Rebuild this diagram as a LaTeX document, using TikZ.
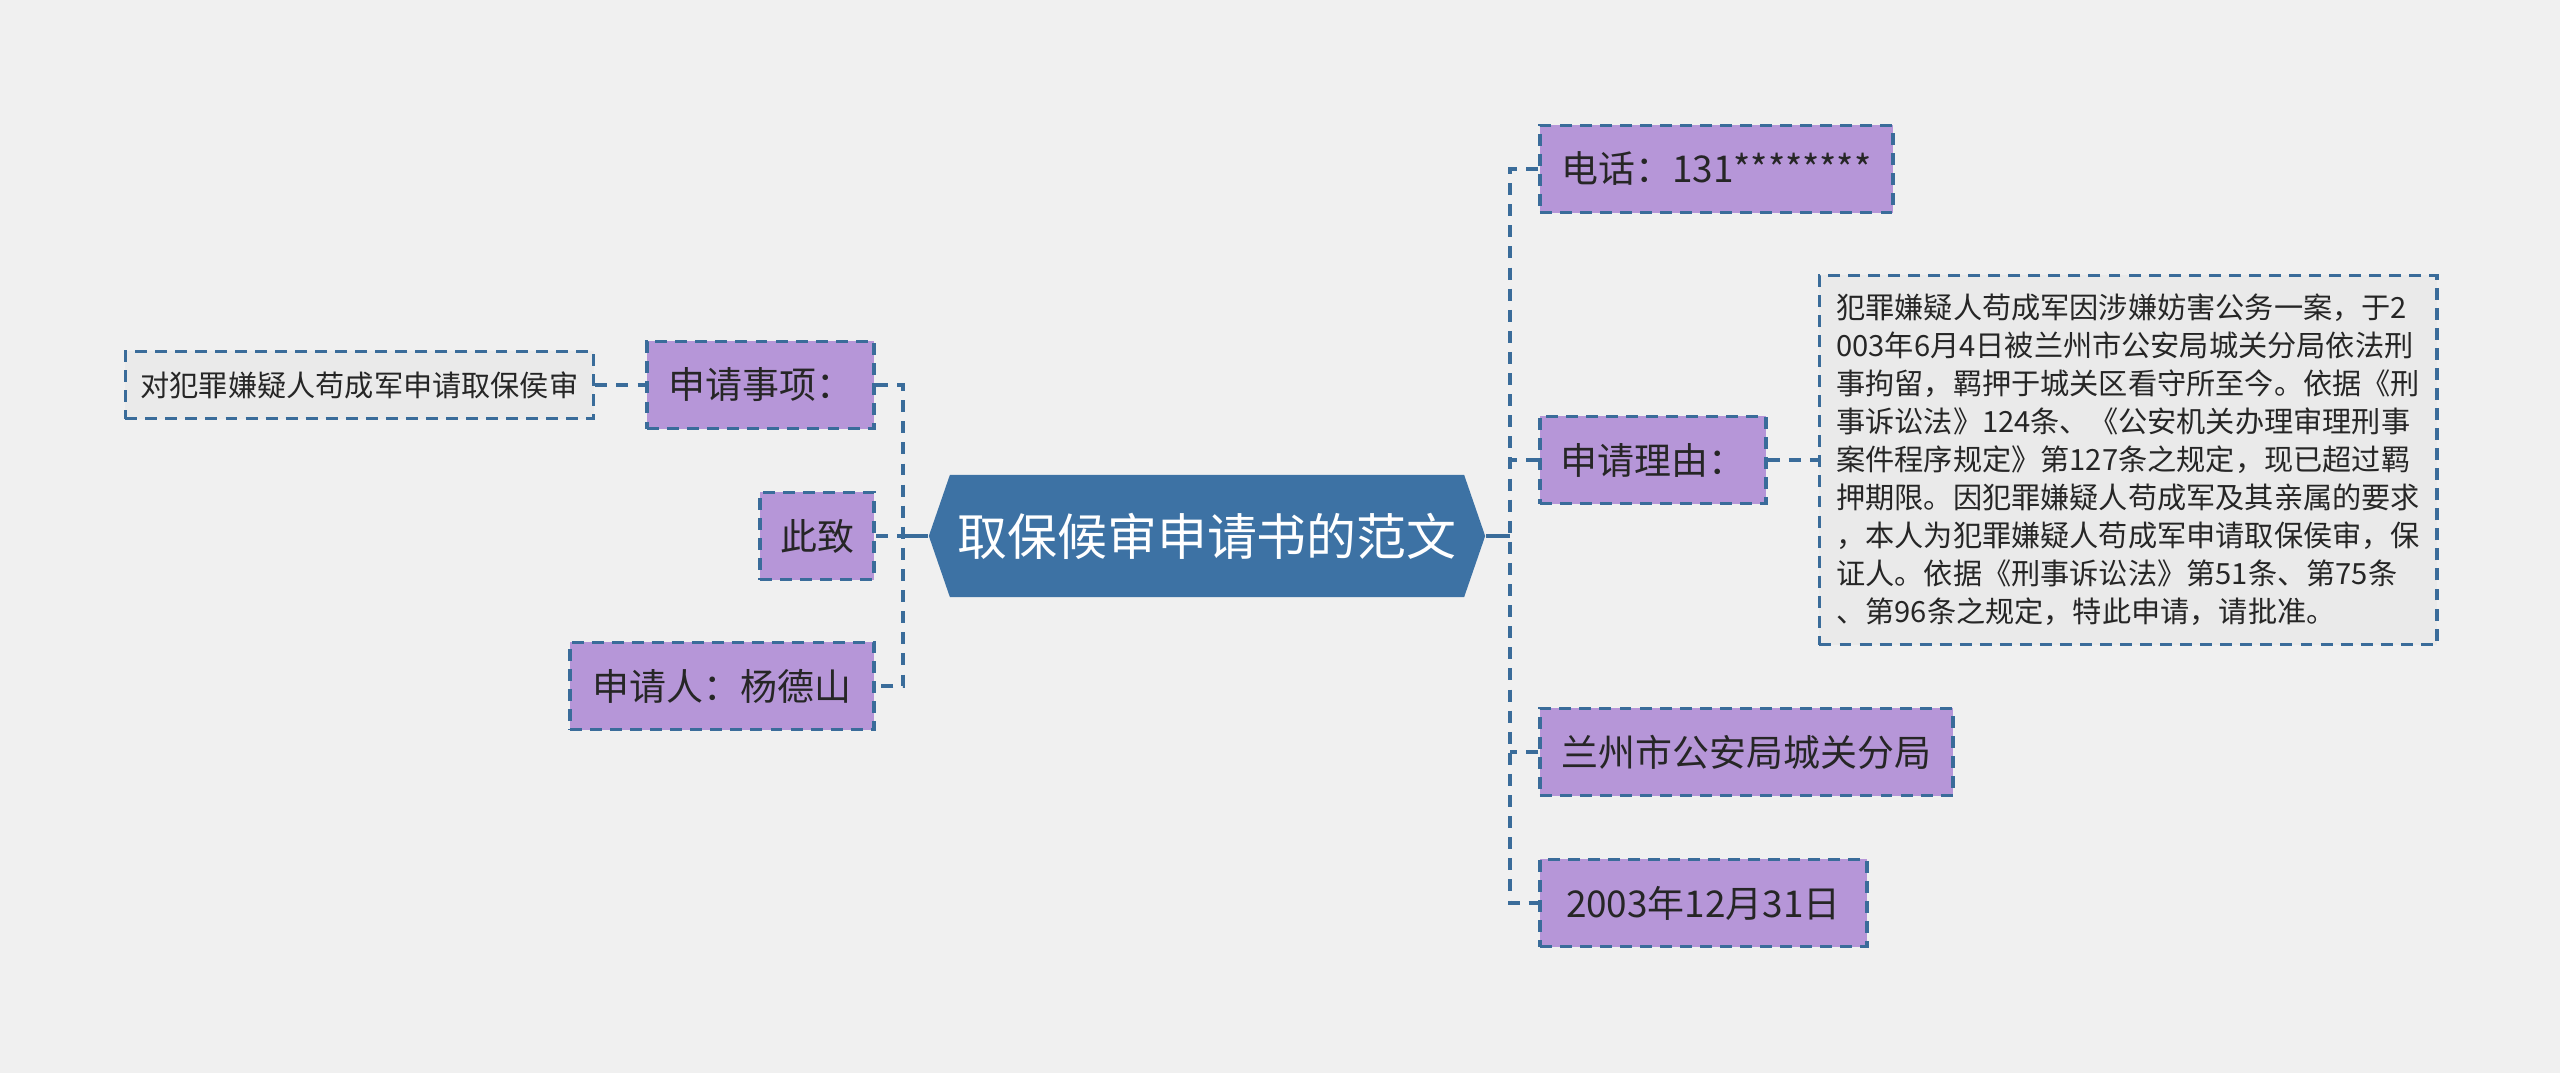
\documentclass[tikz,border=0pt]{standalone}
\usepackage{fontspec}
\setmainfont{Noto Sans CJK SC}
\usepackage{xcolor}
\usetikzlibrary{positioning, shapes.symbols}
\definecolor{bgcol}{HTML}{F0F0F0}
\definecolor{lineblue}{HTML}{3A6C9A}
\definecolor{rootblue}{HTML}{3D72A4}
\definecolor{branchpurple}{HTML}{B696D8}
\definecolor{notegray}{HTML}{EAEAEA}
\definecolor{inkgray}{HTML}{262626}

\begin{document}
\begin{tikzpicture}[
  x=0.01cm, y=-0.01cm,
  box/.style={rectangle, draw=lineblue, line width=1pt,
              dash pattern=on 3.4pt off 2.3pt, minimum height=0.87cm,
              inner sep=0pt, text=inkgray, font=\fontsize{10.5}{12}\selectfont},
  branch/.style={box, fill=branchpurple},
  note/.style={box, fill=notegray, font=\fontsize{8.3}{10.8}\selectfont},
  topic/.style={signal, signal to=east and west, signal pointer angle=142,
                fill=rootblue, text=white, minimum width=5.56cm,
                minimum height=1.22cm, inner sep=0pt,
                font=\fontsize{14.2}{17}\selectfont},
  link/.style={draw=lineblue, line width=1.1pt, dash pattern=on 3.4pt off 2.6pt},
  stem/.style={draw=lineblue, line width=1.3pt}
]
  \fill[bgcol] (0,0) rectangle (2560,1073);
  \useasboundingbox (0,0) rectangle (2560,1073);

  \node[topic] (topic) at (1207,536) {取保候审申请书的范文};

  % left side
  \node[branch, anchor=east, minimum width=2.27cm] (item) at (876,385) {申请事项：};
  \node[note, left=0.5cm of item, minimum width=4.68cm, minimum height=0.67cm] (itemtext) {对犯罪嫌疑人苟成军申请取保侯审};
  \node[branch, anchor=east, minimum width=1.14cm] (regards) at (876,536) {此致};
  \node[branch, anchor=east, minimum width=3.04cm] (applicant) at (876,686) {申请人：杨德山};

  % right side
  \node[branch, anchor=west, minimum width=3.53cm] (phone) at (1538,169) {电话：131********};
  \node[branch, anchor=west, minimum width=2.26cm] (reason) at (1538,460) {申请理由：};
  \node[note, right=0.5cm of reason, minimum width=6.17cm, minimum height=3.69cm,
        align=left] (reasontext) {犯罪嫌疑人苟成军因涉嫌妨害公务一案，于2\\
    003年6月4日被兰州市公安局城关分局依法刑\\
    事拘留，羁押于城关区看守所至今。依据《刑\\
    事诉讼法》124条、《公安机关办理审理刑事\\
    案件程序规定》第127条之规定，现已超过羁\\
    押期限。因犯罪嫌疑人苟成军及其亲属的要求\\
    ，本人为犯罪嫌疑人苟成军申请取保侯审，保\\
    证人。依据《刑事诉讼法》第51条、第75条\\
    、第96条之规定，特此申请，请批准。};
  \node[branch, anchor=west, minimum width=4.13cm] (bureau) at (1538,752) {兰州市公安局城关分局};
  \node[branch, anchor=west, minimum width=3.27cm] (date) at (1538,903) {2003年12月31日};

  \coordinate (lhub) at (903,536);
  \coordinate (rhub) at (1510,536);

  \draw[stem] (topic.west) -- (lhub);
  \draw[link] (item.east) -| (lhub) |- (applicant.east);
  \draw[link] (regards.east) -- (lhub);
  \draw[link] (itemtext.east) -- (item.west);

  \draw[stem] (topic.east) -- (rhub);
  \draw[link] (phone.west) -| (rhub) |- (date.west);
  \draw[link] (reason.west) -- (reason.west -| rhub);
  \draw[link] (bureau.west) -- (bureau.west -| rhub);
  \draw[link] (reason.east) -- (reasontext.west);
\end{tikzpicture}
\end{document}
